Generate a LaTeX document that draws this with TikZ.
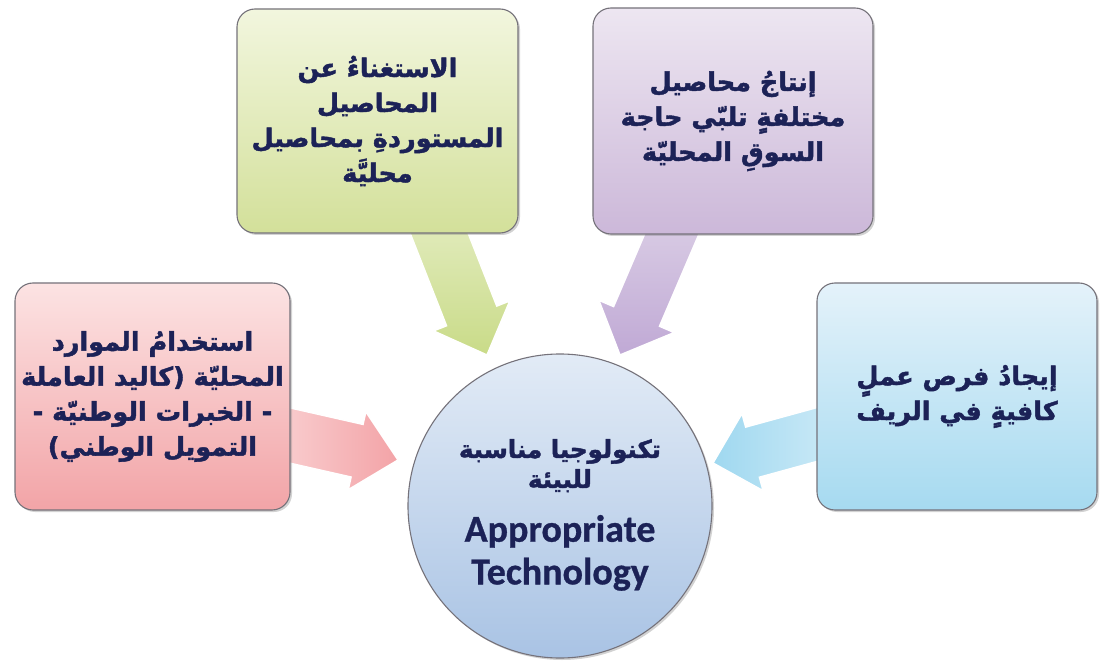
\documentclass[tikz,border=0pt]{standalone}
\usepackage{fontspec}
\setmainfont{Carlito}
\newfontfamily\engfont[BoldFont={Carlito Bold}, BoldFeatures={FakeBold=0.8}]{Carlito}
\newfontfamily\arabicfont[Script=Arabic, BoldFont={DejaVu Sans Bold}, BoldFeatures={FakeBold=1.7}]{DejaVu Sans}
\TeXXeTstate=1
\usetikzlibrary{calc,shadows}
\definecolor{txt}{HTML}{1C2257}
\definecolor{edge}{HTML}{75727A}
\definecolor{gtop}{HTML}{F2F6DE}\definecolor{gbot}{HTML}{D3E09A}
\definecolor{ptop}{HTML}{EDE6F1}\definecolor{pbot}{HTML}{CCB8D9}
\definecolor{rtop}{HTML}{FCE3E3}\definecolor{rbot}{HTML}{F2A4A7}
\definecolor{btop}{HTML}{E4F2FA}\definecolor{bbot}{HTML}{A6DAF0}
\definecolor{ctop}{HTML}{E2EBF6}\definecolor{cbot}{HTML}{A9C3E4}
\definecolor{garrA}{HTML}{E4EDC2}\definecolor{garrB}{HTML}{C9DB88}
\definecolor{parrA}{HTML}{DCD0E6}\definecolor{parrB}{HTML}{C0A9D5}
\definecolor{rarrA}{HTML}{FAD3D4}\definecolor{rarrB}{HTML}{F3A3A7}
\definecolor{barrA}{HTML}{CFEBF7}\definecolor{barrB}{HTML}{9FD8F0}
\newcommand\BlockArrow[6]{%
  \coordinate (#1h) at ($(#2)!#5!(#1)$);
  \path[#6] ($(#1)!#3!90:(#2)$) -- ($(#1h)!#3!90:(#2)$) -- ($(#1h)!#4!90:(#2)$) -- (#2)
    -- ($(#1h)!#4!-90:(#2)$) -- ($(#1h)!#3!-90:(#2)$) -- ($(#1)!#3!-90:(#2)$) -- cycle;}
\newcommand\EngLine[1]{{\engfont\bfseries\fontsize{38}{40}\selectfont #1}}
\newcommand\ArLine[1]{\beginR #1\endR}
\tikzset{
  box/.style={draw=edge, line width=1.1pt, rounded corners=18pt,
    drop shadow={opacity=0.35, shadow xshift=2pt, shadow yshift=-2pt},
    text=txt, align=center, inner sep=0pt,
    font=\arabicfont\bfseries\fontsize{25.5}{35}\selectfont},
  hub/.style={circle, draw=edge, line width=1.1pt, minimum size=304pt, inner sep=0pt,
    drop shadow={opacity=0.35, shadow xshift=2pt, shadow yshift=-2pt},
    top color=ctop, bottom color=cbot},
  hubtext/.style={text=txt, align=center, inner sep=0pt,
    font=\arabicfont\bfseries\fontsize{24.5}{30}\selectfont},
  arr/.style={draw=white, line width=1.5pt}
}
\begin{document}
\begin{tikzpicture}[x=1pt,y=-1pt]
\useasboundingbox[fill=white] (0,0) rectangle (1101,663);
% arrows
\coordinate (gS) at (432,215); \coordinate (gT) at (487,355);
\coordinate (pS) at (680,215); \coordinate (pT) at (620,355);
\coordinate (rS) at (270,431); \coordinate (rT) at (398,460);
\coordinate (bS) at (837,429); \coordinate (bT) at (713,463);
\BlockArrow{gS}{gT}{27pt}{41pt}{42pt}{arr, top color=garrA, bottom color=garrB}
\BlockArrow{pS}{pT}{25pt}{41pt}{42pt}{arr, top color=parrA, bottom color=parrB}
\BlockArrow{rS}{rT}{27pt}{40pt}{42pt}{arr, left color=rarrA, right color=rarrB}
\BlockArrow{bS}{bT}{26pt}{40pt}{41pt}{arr, right color=barrA, left color=barrB}
% hub
\node[hub] (hub) at (560,506) {};
\node[hubtext] (hubt) at (560,515) {\ArLine{تكنولوجيا مناسبة}\\\ArLine{للبيئة}\\[22pt]\EngLine{Appropriate}\\[9pt]\EngLine{Technology}};
% boxes
\node[box, minimum width=281pt, minimum height=224pt, top color=gtop, bottom color=gbot] (green) at (377.5,121)
  {\ArLine{الاستغناءُ عن}\\\ArLine{المحاصيل}\\\ArLine{المستوردةِ بمحاصيل}\\\ArLine{محليَّة}};
\node[box, minimum width=280pt, minimum height=226pt, top color=ptop, bottom color=pbot] (purple) at (733,121)
  {\ArLine{إنتاجُ محاصيل}\\\ArLine{مختلفةٍ تلبّي حاجة}\\\ArLine{السوقِ المحليّة}};
\node[box, minimum width=275pt, minimum height=227pt, top color=rtop, bottom color=rbot] (red) at (152.5,396.5)
  {\ArLine{استخدامُ الموارد}\\\ArLine{المحليّة (كاليد العاملة}\\\ArLine{- الخبرات الوطنيّة -}\\\ArLine{التمويل الوطني)}};
\node[box, minimum width=280pt, minimum height=227pt, top color=btop, bottom color=bbot] (blue) at (957,396.5)
  {\ArLine{إيجادُ فرص عملٍ}\\\ArLine{كافيةٍ في الريف}};
\end{tikzpicture}
\end{document}
